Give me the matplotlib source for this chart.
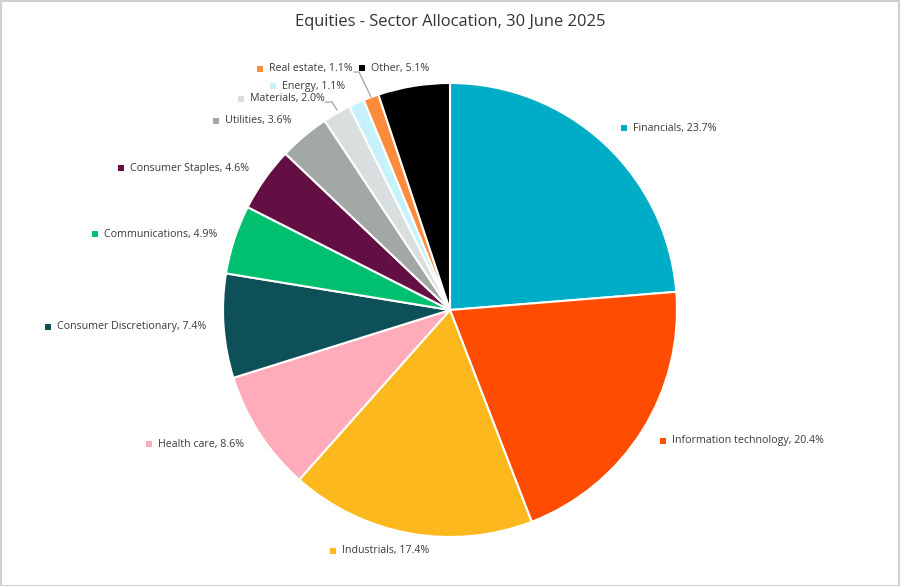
import matplotlib
matplotlib.use("Agg")
import matplotlib.pyplot as plt
from matplotlib.patches import Rectangle

plt.rcParams['font.family'] = ['Open Sans', 'DejaVu Sans']

title = "Equities - Sector Allocation, 30 June 2025"
sectors = ["Financials", "Information technology", "Industrials", "Health care",
           "Consumer Discretionary", "Communications", "Consumer Staples", "Utilities",
           "Materials", "Energy", "Real estate", "Other"]
weights = [23.7, 20.4, 17.4, 8.6, 7.4, 4.9, 4.6, 3.6, 2.0, 1.1, 1.1, 5.1]
colors = ["#00adc6", "#ff4c00", "#fdb81e", "#ffabb9", "#0e5058", "#00bf6f",
          "#630f43", "#a2a8a6", "#d9dedf", "#c6f2fb", "#ff8b3d", "#000000"]

W, H = 900, 586
fig = plt.figure(figsize=(W / 100, H / 100), dpi=100)
ax = fig.add_axes([0, 0, 1, 1])

cx, cy, R = 450, H - 310, 227
ax.pie(weights, colors=colors, startangle=90, counterclock=False,
       center=(cx, cy), radius=R, frame=True,
       wedgeprops=dict(edgecolor="white", linewidth=1.5))
ax.set_xlim(0, W)
ax.set_ylim(0, H)
ax.axis("off")

# label layout (pixel coords, y from top): square center x, text center y
label_pos = {
    "Financials": (624, 128),
    "Information technology": (663, 441),
    "Industrials": (333, 551),
    "Health care": (149, 444),
    "Consumer Discretionary": (48, 327),
    "Communications": (95, 234),
    "Consumer Staples": (121, 168),
    "Utilities": (216, 121),
    "Materials": (241, 99),
    "Energy": (273, 86),
    "Real estate": (260, 69),
    "Other": (362, 68),
}
for name, w, c in zip(sectors, weights, colors):
    sx, sy = label_pos[name]
    ax.add_patch(Rectangle((sx - 3, H - sy - 3), 6, 6, facecolor=c, edgecolor="none"))
    ax.text(sx + 9, H - sy, f"{name}, {w:.1f}%", fontsize=7.7, color="#3a3a3a",
            va="center", ha="left")

# connector lines
ax.plot([354, 359, 371], [H - 72, H - 72, H - 97], color="#999999", lw=0.8)
ax.plot([325, 332, 337], [H - 102, H - 102, H - 110], color="#999999", lw=0.8)

fig.text(0.5, 1 - 22 / H, title, ha="center", va="center", fontsize=11.9, color="#333333")

fig.patches.append(Rectangle((0.5 / W, 0.5 / H), 1 - 1.5 / W, 1 - 1.5 / H,
                             transform=fig.transFigure, fill=False,
                             edgecolor="#d0d0d0", lw=1.5))

fig.savefig("out.png", dpi=100)
